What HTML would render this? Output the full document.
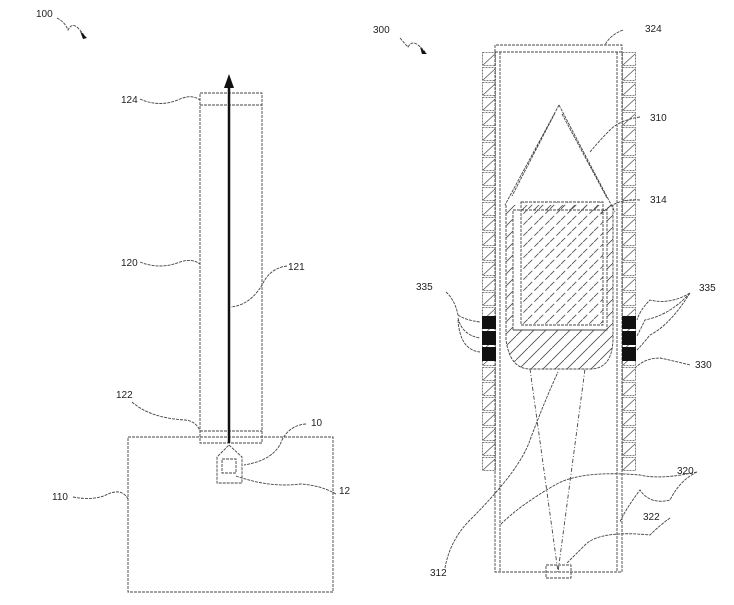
<!DOCTYPE html>
<html><head><style>body{margin:0;background:#fff}svg{display:block}text{font-family:"Liberation Sans",sans-serif;font-size:10px;fill:#222}</style></head>
<body>
<svg width="734" height="605" viewBox="0 0 734 605" xmlns="http://www.w3.org/2000/svg">
<defs>
<pattern id="col" x="482" y="52" width="14" height="15" patternUnits="userSpaceOnUse">
<rect x="0.5" y="0.5" width="13" height="13" fill="none" stroke="#555" stroke-dasharray="2,1" stroke-width="0.8"/>
<line x1="1" y1="13" x2="13" y2="2" stroke="#555" stroke-width="0.8"/>
</pattern>
<pattern id="col2" x="622" y="52" width="14" height="15" patternUnits="userSpaceOnUse">
<rect x="0.5" y="0.5" width="13" height="13" fill="none" stroke="#555" stroke-dasharray="2,1" stroke-width="0.8"/>
<line x1="1" y1="13" x2="13" y2="2" stroke="#555" stroke-width="0.8"/>
</pattern>
<pattern id="hatch" width="12" height="12" patternUnits="userSpaceOnUse">
<line x1="0" y1="12" x2="12" y2="0" stroke="#555" stroke-width="0.9"/>
</pattern>
<pattern id="hatchd" width="11" height="11" patternUnits="userSpaceOnUse">
<line x1="0" y1="11" x2="11" y2="0" stroke="#555" stroke-width="0.9" stroke-dasharray="6,3"/>
</pattern>
</defs>
<g fill="none" stroke="#444" stroke-width="0.9" stroke-dasharray="3,1">
<rect x="200" y="93" width="62" height="350"/>
<line x1="200" y1="105" x2="262" y2="105"/>
<line x1="200" y1="431" x2="262" y2="431"/>
<rect x="128" y="437" width="205" height="155"/>
<path d="M229 445 L242 457 L242 483 L217 483 L217 457 Z"/>
<rect x="222" y="459" width="14" height="14"/>
<rect x="495" y="52" width="127" height="520"/>
<line x1="500" y1="52" x2="500" y2="572"/>
<line x1="617" y1="52" x2="617" y2="572"/>
<path d="M495 52 L495 45 L622 45 L622 52"/>
<path d="M506 205 L506 340 Q510 369 530 369 L590 369 Q612 369 613 340 L613 205" fill="url(#hatch)"/>
<rect x="513" y="210" width="94" height="120" fill="#fff"/>
<rect x="521" y="202" width="82" height="123" fill="url(#hatchd)"/>
<line x1="513" y1="330" x2="607" y2="330"/>
<path d="M559 105 L505 205 M559 105 L615 212 M562 114 L607 198 M555 113 L512 196"/>
<path d="M530 369 L558 572 L585 369" stroke-dasharray="4,2,1,2"/>
<rect x="546" y="565" width="25" height="13"/>
<path d="M140 99 Q160 108 180 99 Q192 94 200 100"/>
<path d="M140 262 Q160 270 180 262 Q192 258 200 264"/>
<path d="M287 266 Q270 268 262 285 Q250 305 231 307"/>
<path d="M132 402 Q150 418 185 420 Q196 421 200 431"/>
<path d="M306 424 Q290 425 282 440 Q275 460 244 465"/>
<path d="M336 494 Q320 485 300 484 Q270 488 236 476"/>
<path d="M73 497 Q95 501 108 494 Q122 488 128 499"/>
<path d="M623 30 Q610 35 605 45"/>
<path d="M640 117 Q620 120 610 130 Q600 140 590 152"/>
<path d="M640 200 Q615 198 600 215"/>
<path d="M446 292 Q455 300 458 315 M458 315 Q465 320 480 322 M458 318 Q462 335 480 338 M458 320 Q460 350 480 352"/>
<path d="M690 293 Q670 305 650 300 Q640 310 637 320 M690 293 Q670 315 645 320 Q640 330 637 336 M690 293 Q670 325 650 335 Q642 345 637 350"/>
<path d="M690 365 Q670 360 660 358 Q645 358 635 368"/>
<path d="M445 568 Q450 540 470 520 Q520 470 530 440 Q545 400 558 372"/>
<path d="M697 472 Q660 480 640 475 Q580 470 555 485 Q520 505 500 525 M697 472 Q680 480 670 500 Q650 505 640 490 Q625 510 620 522"/>
<path d="M670 518 Q660 525 650 535 Q600 530 585 545 Q575 555 567 563"/>
<path d="M57 18 Q65 22 68 30 Q72 22 78 28 Q82 32 85 37"/>
<path d="M400 38 Q405 44 408 47 Q412 40 418 45 Q422 48 425 52"/>
</g>
<rect x="482" y="52" width="14" height="420" fill="url(#col)"/>
<rect x="622" y="52" width="14" height="420" fill="url(#col2)"/>
<g fill="#111">
<rect x="482" y="316" width="14" height="13"/><rect x="482" y="331" width="14" height="14"/><rect x="482" y="347" width="14" height="14"/>
<rect x="622" y="316" width="14" height="13"/><rect x="622" y="331" width="14" height="14"/><rect x="622" y="347" width="14" height="14"/>
</g>
<line x1="229" y1="443" x2="229" y2="84" stroke="#111" stroke-width="2.5"/>
<path d="M229 74 L224 88 L234 88 Z" fill="#111"/>
<path d="M80 31 L87 38 L83 39 Z" fill="#111"/>
<path d="M420 47 L427 54 L422 54 Z" fill="#111"/>
<text x="36" y="17">100</text>
<text x="121" y="103">124</text>
<text x="121" y="266">120</text>
<text x="288" y="270">121</text>
<text x="116" y="398">122</text>
<text x="311" y="426">10</text>
<text x="339" y="494">12</text>
<text x="52" y="500">110</text>
<text x="373" y="33">300</text>
<text x="645" y="32">324</text>
<text x="650" y="121">310</text>
<text x="650" y="203">314</text>
<text x="416" y="290">335</text>
<text x="699" y="291">335</text>
<text x="695" y="368">330</text>
<text x="677" y="474">320</text>
<text x="643" y="520">322</text>
<text x="430" y="576">312</text>
</svg>
</body></html>
